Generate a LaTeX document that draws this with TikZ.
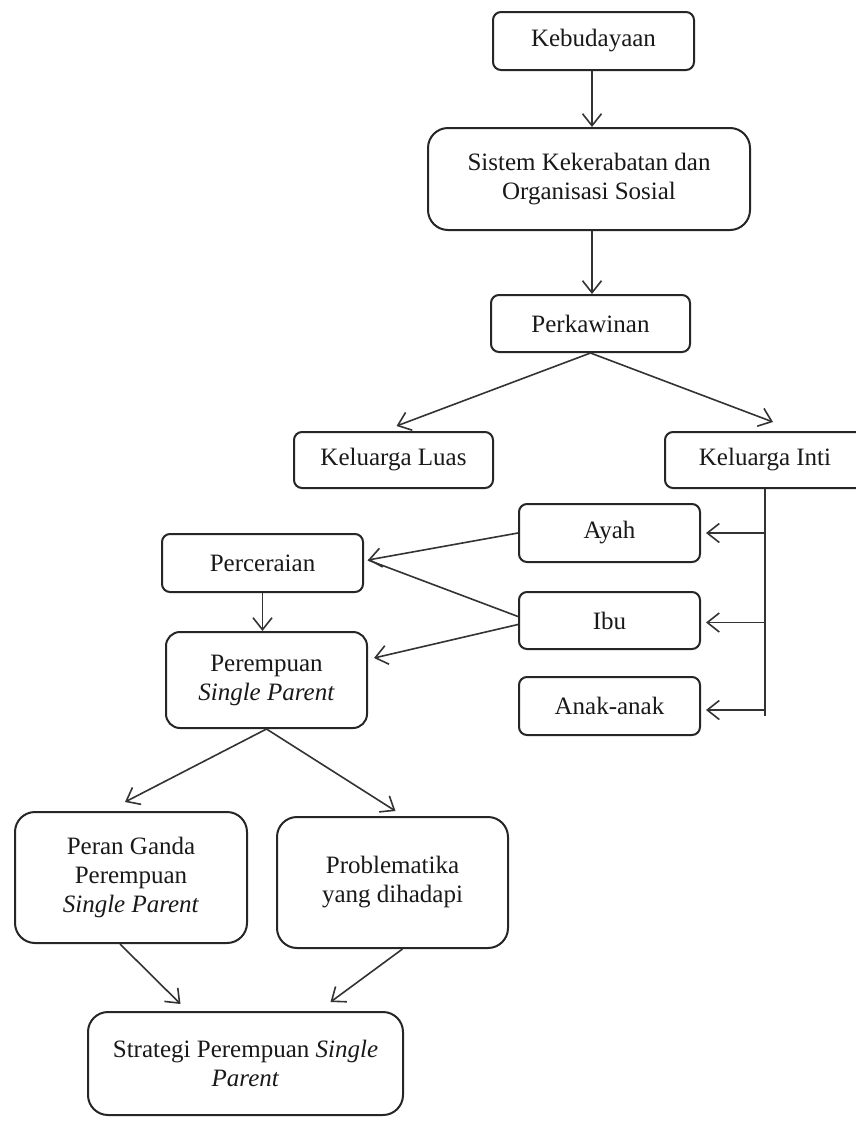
\documentclass[tikz,border=0pt]{standalone}
\usepackage{fontspec}
\setmainfont{Liberation Serif}
\usetikzlibrary{arrows.meta,calc}
\begin{document}
\begin{tikzpicture}[x=1pt,y=-1pt,
  box/.style={draw=black!85, line width=2pt, rounded corners=8pt, align=center, inner sep=2pt,
    font=\fontsize{25}{29}\selectfont, text=black!90},
  bigbox/.style={box, rounded corners=20pt},
  arr/.style={draw=black!80, line width=1.6pt, -{Straight Barb[length=12pt,width=19pt,line width=1.6pt]}},
  ln/.style={draw=black!80, line width=1.6pt}]
\useasboundingbox (0,0) rectangle (856,1122);
\fill[white] (0,0) rectangle (856,1122);
\node[box, minimum width=201pt, minimum height=58pt] (keb) at (593.5,41) {Kebudayaan};
\node[bigbox, minimum width=322pt, minimum height=102pt] (sis) at (589,179) {Sistem Kekerabatan dan\\Organisasi Sosial};
\node[box, minimum width=199pt, minimum height=57pt] (per) at (590.5,323.5) {Perkawinan};
\node[box, minimum width=199pt, minimum height=56pt] (luas) at (393.5,460) {Keluarga Luas};
\node[box, minimum width=200pt, minimum height=56pt] (inti) at (765,460) {Keluarga Inti};
\node[box, minimum width=181pt, minimum height=58pt] (ayah) at (609.5,533) {Ayah};
\node[box, minimum width=181pt, minimum height=57pt] (ibu) at (609.5,620.5) {Ibu};
\node[box, minimum width=181pt, minimum height=58pt] (anak) at (609.5,706) {Anak-anak};
\node[box, minimum width=201pt, minimum height=58pt] (cerai) at (262.5,563) {Perceraian};
\node[box, rounded corners=14pt, minimum width=201pt, minimum height=96pt] (pr) at (266.5,680) {Perempuan\\\textit{Single Parent}};
\node[bigbox, minimum width=232pt, minimum height=131pt] (peran) at (131,877.5) {Peran Ganda\\Perempuan\\\textit{Single Parent}};
\node[bigbox, minimum width=231pt, minimum height=131pt] (prob) at (392.5,882.5) {Problematika\\yang dihadapi};
\node[bigbox, minimum width=315pt, minimum height=103pt] (strat) at (245.5,1063.5) {Strategi Perempuan \textit{Single}\\\textit{Parent}};
\coordinate (bot) at (765,716);
% connectors
\draw[arr] (keb.south -| 592,0) -- (sis.north -| 592,0);
\draw[arr] (sis.south -| 592,0) -- (per.north -| 592,0);
\draw[arr] (per.south) -- ([xshift=3pt,yshift=5pt]luas.north);
\draw[arr] (per.south) -- ([xshift=8pt,yshift=9pt]inti.north);
\draw[ln] (inti.south) -- (bot);
\draw[arr] (inti.south |- ayah.east) -- ([xshift=5pt]ayah.east);
\draw[arr] ([yshift=-2pt]inti.south |- ibu.east) -- ([xshift=5pt,yshift=-2pt]ibu.east);
\draw[arr] ([yshift=-4pt]inti.south |- anak.east) -- ([xshift=5pt,yshift=-4pt]anak.east);
\draw[arr] (ayah.west) -- ([xshift=4pt,yshift=3pt]cerai.east);
\draw[ln] ([yshift=4pt]ibu.west) -- ([xshift=4pt,yshift=3pt]cerai.east);
\draw[arr] ([yshift=-4pt]ibu.west) -- ([xshift=6pt,yshift=22pt]pr.east);
\draw[arr] (cerai.south) -- (cerai.south |- pr.north);
\draw[arr] (pr.south) -- ([xshift=-6pt,yshift=9pt]peran.north);
\draw[arr] (pr.south) -- ([xshift=3pt,yshift=5pt]prob.north);
\draw[arr] ([xshift=-11pt]peran.south) -- ([xshift=-65pt,yshift=7pt]strat.north);
\draw[arr] ([xshift=10pt]prob.south) -- ([xshift=85pt,yshift=9pt]strat.north);
\end{tikzpicture}
\end{document}
